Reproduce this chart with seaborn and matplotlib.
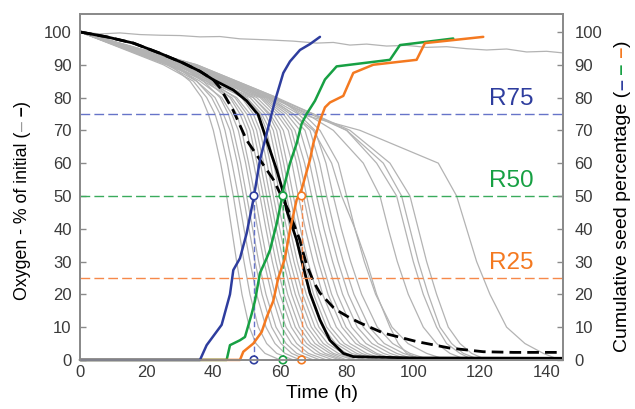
import matplotlib

matplotlib.use("Agg")
import matplotlib.pyplot as plt
import pandas as pd
import seaborn as sns

# oxygen levels (% of initial) at which each grey trace's time was read
OXYGEN_LEVELS = [100, 90, 85, 80, 75, 70, 60, 50, 40, 30, 20, 10, 5, 2, 0]
GRAY_CURVE_TIMES = [
    [0, 27, 33, 36.5, 38.5, 40, 42.2, 44, 45.5, 47, 48.6, 50.8, 52.8, 55.5, 60],
    [0, 25, 34, 38, 40.5, 42, 44.2, 46, 47.6, 49.2, 51, 53.5, 56, 59, 64],
    [0, 28, 35, 39.5, 42, 43.5, 45.6, 47.5, 49.2, 51, 53, 55.8, 58.5, 61.5, 66],
    [0, 26, 35, 40.5, 43, 45, 47.2, 49, 50.7, 52.5, 54.6, 57.5, 60.3, 63.5, 68],
    [0, 30, 37, 42, 44.5, 46, 48.2, 50, 51.8, 53.6, 55.8, 58.8, 61.8, 65, 70],
    [0, 27, 36, 42.5, 45.5, 47.5, 49.7, 51.5, 53.3, 55.2, 57.5, 60.5, 63.5, 67, 72],
    [0, 29, 38, 44, 47, 48.5, 50.6, 52.5, 54.3, 56.2, 58.5, 61.8, 65, 68.5, 74],
    [0, 31, 39, 45, 48, 50, 52.1, 54, 55.8, 57.7, 60, 63.4, 66.6, 70.5, 76],
    [0, 28, 37, 45.5, 49, 51, 53.1, 55, 56.8, 58.8, 61.2, 64.6, 68, 72, 78],
    [0, 30, 39, 46.5, 50, 52, 54.1, 56, 57.9, 59.9, 62.3, 65.8, 69.2, 73.5, 79],
    [0, 27, 38, 47, 51, 53, 55.1, 57, 58.9, 61, 63.5, 67, 70.5, 75, 80],
    [0, 32, 41, 48.5, 52, 54, 56.1, 58, 59.9, 62, 64.6, 68.2, 71.8, 76, 82],
    [0, 29, 39, 49, 53, 55, 57.1, 59, 61, 63.1, 65.7, 69.4, 73, 77.5, 83],
    [0, 31, 41, 50, 54, 56, 58.1, 60, 62, 64.2, 66.8, 70.5, 74.3, 79, 85],
    [0, 26, 38, 50, 54.5, 57, 59.1, 61, 63, 65.2, 67.9, 71.7, 75.5, 80, 86],
    [0, 30, 40, 51, 55.5, 58, 60.1, 62, 64, 66.3, 69, 72.9, 76.7, 81.5, 88],
    [0, 33, 43, 52, 56.5, 59, 61.1, 63, 65, 67.3, 70.1, 74, 78, 83, 89],
    [0, 28, 40, 52, 57, 60, 62.1, 64, 66.1, 68.4, 71.2, 75.2, 79.3, 84.5, 90],
    [0, 31, 42, 53, 58, 61, 63.6, 65.5, 67.6, 70, 72.8, 76.9, 81, 86, 92],
    [0, 29, 41, 54, 59, 62.5, 65, 67, 69.1, 71.5, 74.4, 78.6, 82.7, 88, 94],
    [0, 32, 43, 54.5, 60, 63.5, 66, 68, 70.1, 72.6, 75.5, 79.8, 84, 89, 95],
    [0, 30, 42, 55, 61, 64.5, 67.4, 69.5, 71.7, 74.2, 77.2, 81.5, 85.8, 91, 97],
    [0, 33, 44, 55.5, 62, 66, 68.9, 71, 73.2, 75.8, 78.8, 83.2, 87.6, 93, 99],
    [0, 31, 43, 56, 63, 67.5, 70.4, 72.5, 74.8, 77.4, 80.5, 85, 89.4, 95, 101],
    [0, 34, 45, 56.5, 64, 69, 71.9, 74, 76.3, 79, 82.2, 86.8, 91.3, 97, 103],
    [0, 32, 44, 57, 65.5, 70.5, 73.8, 76, 78.4, 81.2, 84.5, 89.2, 93.8, 99, 105],
    [0, 33, 45, 56.5, 64, 70, 75.5, 78.5, 82.5, 86, 89, 93, 95.5, 98, 103],
    [0, 34, 46, 58, 67, 72, 77.5, 80, 82.5, 85.3, 88.7, 93.6, 98.4, 104, 110],
    [0, 34, 46, 58, 68, 76, 85, 90, 92.5, 95.2, 98.5, 103, 107, 111, 116],
    [0, 35, 47, 59, 70, 80, 89, 95, 97.5, 100, 103, 107, 110, 114, 118],
    [0, 33, 45, 57, 69, 80, 91, 96.5, 99, 101.5, 104.5, 108, 111.5, 115, 120],
    [0, 34, 46, 58, 70, 81, 93, 99, 101.5, 104, 107, 110.5, 114, 117.5, 122],
    [0, 35, 47, 59, 66, 84, 107.5, 113, 116, 119, 123, 128, 133.5, 139, 144],
]
END_TIME = 145

FLAT_TIME = [0, 6, 12, 18, 24, 30, 36, 42, 48, 56, 64, 71, 76, 81, 86, 92, 98,
             104, 110, 116, 122, 128, 134, 140, 145]
FLAT_OXYGEN = [100, 99.4, 99.7, 99.2, 99.0, 98.9, 98.5, 98.6, 97.9, 97.6, 97.2,
               96.6, 96.8, 96.0, 96.3, 95.7, 95.9, 95.3, 95.5, 94.9, 94.5, 94.8,
               93.9, 94.1, 93.6]

MEAN_TIME = [0, 8, 16, 24, 31, 36, 40, 46, 50, 53.5, 56, 59, 61, 62, 65, 67, 69,
             72, 75, 79, 82, 100, 145]
MEAN_OXYGEN = [100, 98.5, 96.6, 93.5, 90.5, 88, 85.4, 82.3, 79, 74.7, 67, 58,
               51, 45.7, 36.6, 28.4, 20.4, 12.2, 6, 2, 1, 0.6, 0.5]

MEDIAN_TIME = [0, 8, 16, 24, 31, 36, 40, 42, 46, 50, 54, 58, 61, 62.5, 66, 67,
               68, 70, 72, 76, 78, 81, 84, 91, 101, 111, 121, 130, 145]
MEDIAN_OXYGEN = [100, 98.5, 96.6, 93.5, 90.5, 88, 85.4, 83, 76, 67, 61, 55,
                 48.8, 45.7, 36.5, 32.6, 29, 24, 20.4, 16, 14.6, 12.8, 11.3,
                 8.2, 5.6, 3.6, 2.5, 2.3, 2.3]

BLUE_TIME = [0, 36, 38, 42.5, 45, 46, 48, 50, 52, 52.5, 54, 56, 58.5, 61, 63,
             66, 69, 72]
BLUE_PCT = [0, 0, 4.5, 10.7, 20, 27.4, 31, 38.6, 48.8, 51.8, 61, 69, 79, 87.5,
            91, 94.5, 96.3, 98.5]

GREEN_TIME = [0, 44, 45, 48, 49.5, 51.5, 52.5, 54, 56, 57, 59, 60.5, 61, 63, 65,
              66.5, 68, 70.5, 73.5, 77, 93, 96, 112]
GREEN_PCT = [0, 0, 4.5, 6, 7, 14, 18, 26.5, 31, 33.5, 41.5, 48.8, 52, 60, 66,
             72, 75, 79, 85.5, 89.5, 91.5, 96, 98]

ORANGE_TIME = [0, 48, 49, 52, 54.5, 56, 58, 59.5, 61.5, 63, 65, 66.5, 69, 70,
               72, 73.5, 75, 79, 82, 88, 101, 103.5, 121]
ORANGE_PCT = [0, 0, 2.5, 5, 8.5, 13, 18, 25, 31, 39.6, 48.8, 52, 61, 66, 73, 77,
              78.5, 80.5, 87.5, 90, 91.5, 96.6, 98.5]

R_LABELS = ["R75", "R50", "R25"]
R_LEVELS = [75, 50, 25]
R_TIMES = [52.2, 60.9, 66.5]
R_MARK_PCT = 50

BLUE = "#2e3d9e"
GREEN = "#17a043"
ORANGE = "#f47920"
LINE_COLORS = ["#6674c8", "#3aab5c", "#f6894a"]
GRAY = "#b3b3b3"
SPINE = "#8a8a8a"
TEXT = "#3a3a3a"


def build_gray_frame() -> pd.DataFrame:
    rows = []
    for i, times in enumerate(GRAY_CURVE_TIMES):
        for t, v in zip(times + [END_TIME], OXYGEN_LEVELS + [0]):
            rows.append({"curve": i, "time": t, "oxygen": v})
    for t, v in zip(FLAT_TIME, FLAT_OXYGEN):
        rows.append({"curve": len(GRAY_CURVE_TIMES), "time": t, "oxygen": v})
    return pd.DataFrame(rows)


def chain_label(fig, x, y, parts, size):
    first, color, weight = parts[0]
    prev = fig.text(x, y, first, rotation=90, ha="center", va="bottom",
                    color=color, fontsize=size, fontweight=weight)
    for piece, color, weight in parts[1:]:
        prev = fig.axes[0].annotate(piece, xy=(0.5, 1.0), xycoords=prev,
                                    rotation=90, ha="center", va="bottom",
                                    color=color, fontsize=size, fontweight=weight,
                                    annotation_clip=False)


sns.set_style("white")
plt.rcParams["font.family"] = ["Liberation Sans", "DejaVu Sans"]

fig, ax = plt.subplots(figsize=(6.35, 4.09), dpi=100)
fig.subplots_adjust(left=0.126, right=0.887, bottom=0.12, top=0.966)

gray_df = build_gray_frame()
sns.lineplot(data=gray_df, x="time", y="oxygen", units="curve", estimator=None,
             sort=False, color=GRAY, linewidth=0.9, ax=ax, legend=False)

mean_df = pd.DataFrame({"time": MEAN_TIME, "oxygen": MEAN_OXYGEN})
median_df = pd.DataFrame({"time": MEDIAN_TIME, "oxygen": MEDIAN_OXYGEN})
sns.lineplot(data=median_df, x="time", y="oxygen", color="black", linewidth=2,
             ax=ax).lines[-1].set_dashes((4.2, 2.2))
sns.lineplot(data=mean_df, x="time", y="oxygen", color="black", linewidth=2,
             ax=ax)

for level, t, c in zip(R_LEVELS, R_TIMES, LINE_COLORS):
    ax.axhline(level, color=c, linewidth=1, dashes=(7, 3), zorder=3)
    ax.vlines(t, 0, R_MARK_PCT, color=c, linewidth=1, linestyles=(0, (4, 2)),
              zorder=3)

for times, pct, c in [(GREEN_TIME, GREEN_PCT, GREEN),
                      (ORANGE_TIME, ORANGE_PCT, ORANGE),
                      (BLUE_TIME, BLUE_PCT, BLUE)]:
    sns.lineplot(x=times, y=pct, color=c, linewidth=1.8, ax=ax, sort=False,
                 clip_on=False, zorder=4)

mark_df = pd.DataFrame({
    "time": R_TIMES * 2,
    "pct": [R_MARK_PCT] * 3 + [0] * 3,
    "series": R_LABELS * 2,
})
sns.scatterplot(data=mark_df, x="time", y="pct", hue="series",
                palette=dict(zip(R_LABELS, [BLUE, GREEN, ORANGE])),
                s=30, linewidth=1.2, legend=False, ax=ax,
                clip_on=False, zorder=5)
marks = ax.collections[-1]
marks.set_facecolor("white")
marks.set_edgecolor([BLUE, GREEN, ORANGE] * 2)

for label, level, c in zip(R_LABELS, R_LEVELS, [BLUE, GREEN, ORANGE]):
    ax.text(129.5, level + 4.5, label, color=c, fontsize=17.5, ha="center",
            va="center")

ax.set_xlim(0, END_TIME)
ax.set_ylim(0, 105.5)
ax.set_xticks(range(0, 141, 20))
ax.set_xticks(range(0, 146, 10), minor=True)
ax.set_yticks(range(0, 101, 10))
ax.set_xlabel("Time (h)", fontsize=14, color="black", labelpad=4)
ax.set_ylabel("")

ax2 = ax.twinx()
ax2.set_ylim(0, 105.5)
ax2.set_yticks(range(0, 101, 10))

for a in (ax, ax2):
    for sp in a.spines.values():
        sp.set_color(SPINE)
        sp.set_linewidth(1.3)
    a.tick_params(which="both", direction="in", length=4, width=1,
                  color=SPINE, labelcolor=TEXT, labelsize=12)
ax.tick_params(axis="y", pad=6)
ax2.tick_params(axis="y", pad=8)

chain_label(fig, 0.035, 0.267,
            [("Oxygen - % of initial (", "black", "normal"),
             ("–", "#9a9a9a", "normal"),
             (" –", "black", "bold"),
             (")", "black", "normal")], 12.8)
chain_label(fig, 0.981, 0.14,
            [("Cumulative seed percentage (", "black", "normal"),
             ("–", BLUE, "bold"),
             (" –", GREEN, "bold"),
             (" –", ORANGE, "bold"),
             (")", "black", "normal")], 14)

fig.savefig("out.png", dpi=100)
